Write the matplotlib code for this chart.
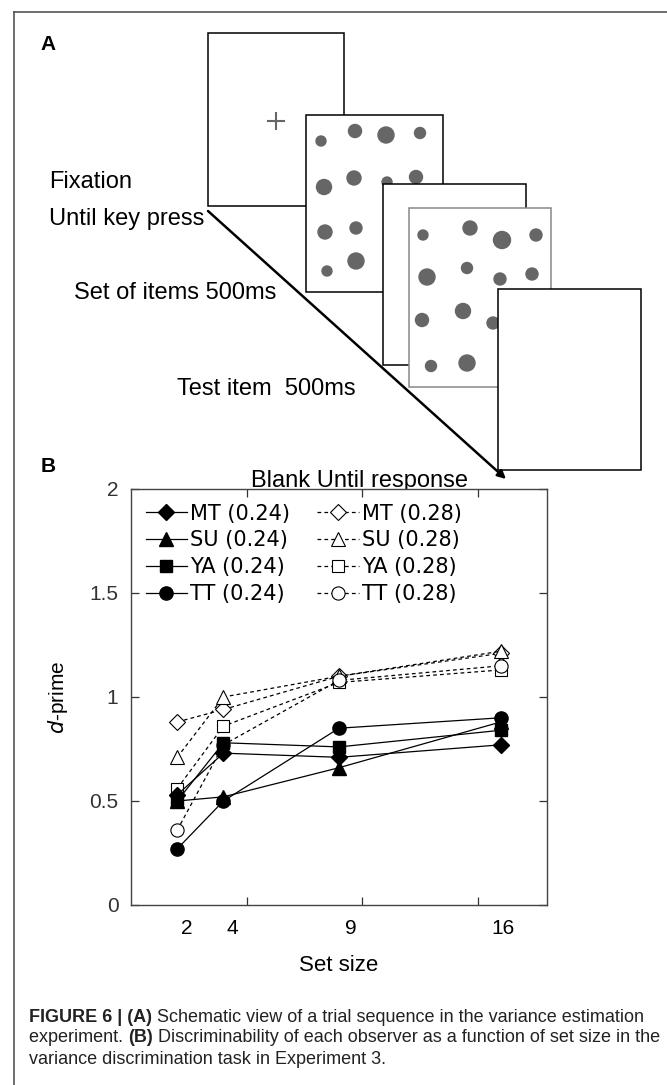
import matplotlib.pyplot as plt
from matplotlib.patches import Rectangle, Circle

# d-prime by set size, two variance levels (0.24 filled, 0.28 open)
set_size = [2, 4, 9, 16]
mt_024 = [0.53, 0.73, 0.71, 0.77]
su_024 = [0.50, 0.52, 0.66, 0.88]
ya_024 = [0.50, 0.78, 0.76, 0.84]
tt_024 = [0.27, 0.50, 0.85, 0.90]
mt_028 = [0.88, 0.94, 1.10, 1.21]
su_028 = [0.71, 1.00, 1.10, 1.22]
ya_028 = [0.56, 0.86, 1.07, 1.13]
tt_028 = [0.36, 0.77, 1.08, 1.15]
observers = ['MT', 'SU', 'YA', 'TT']
markers = ['D', '^', 's', 'o']
msizes = [8, 9.5, 8.5, 9.5]

helv = ['Liberation Sans', 'DejaVu Sans']

fig = plt.figure(figsize=(6.67, 10.85), dpi=100)

# background axes in pixel units for frame, schematic (panel A) and caption
bg = fig.add_axes([0, 0, 1, 1])
bg.set_xlim(0, 667)
bg.set_ylim(1085, 0)
bg.axis('off')

bg.plot([14, 667], [12, 12], color='#555555', lw=1.2)
bg.plot([14, 14], [12, 1085], color='#555555', lw=1.2)

bg.text(48, 45, 'A', fontsize=15, fontweight='bold', family=helv, ha='center', va='center')
bg.text(48, 466, 'B', fontsize=15, fontweight='bold', family=helv, ha='center', va='center')

# schematic of the trial sequence
def frame(x0, y0, x1, y1, ec='black', z=1):
    bg.add_patch(Rectangle((x0, y0), x1 - x0, y1 - y0, facecolor='white',
                           edgecolor=ec, lw=1.1, zorder=z))

def dots(pts, z):
    for x, y, r in pts:
        bg.add_patch(Circle((x, y), r, color='#666666', zorder=z))

dots_a = [(321, 141, 5), (355, 131, 6.5), (386, 135, 8), (420, 133, 5.5),
          (324, 187, 7.5), (354, 178, 7), (387, 182, 5), (416, 177, 6.5),
          (325, 232, 7), (356, 228, 6), (327, 271, 5), (356, 261, 8)]
dots_b = [(423, 235, 5), (470, 228, 7), (502, 240, 8.5), (536, 235, 6),
          (427, 277, 8), (467, 268, 5.5), (500, 279, 6), (532, 274, 6),
          (422, 320, 6.5), (463, 311, 7.5), (493, 323, 6),
          (431, 366, 5.5), (467, 363, 8)]

frame(208, 33, 344, 206, z=1)
bg.plot([268, 284], [121, 121], color='#666666', lw=1.5, zorder=2)
bg.plot([276, 276], [113, 129], color='#666666', lw=1.5, zorder=2)
frame(306, 115, 443, 292, z=3)
dots(dots_a, 4)
frame(383, 184, 526, 365, z=5)
frame(409, 208, 551, 387, ec='#888888', z=6)
dots(dots_b, 7)
frame(498, 289, 641, 470, z=8)
bg.annotate('', xy=(506, 479), xytext=(208, 211),
            arrowprops=dict(arrowstyle='-|>', color='black', lw=1.8,
                            mutation_scale=12, shrinkA=0, shrinkB=0), zorder=9)

txt_kw = dict(fontsize=17, family=helv, va='center', ha='left', zorder=10)
bg.text(49, 182, 'Fixation', **txt_kw)
bg.text(49, 219, 'Until key press', **txt_kw)
bg.text(74, 293, 'Set of items 500ms', **txt_kw)
bg.text(177, 389, 'Test item  500ms', **txt_kw)
bg.text(251, 481, 'Blank Until response', **txt_kw)

# caption, mixed bold / regular pieces chained one after another
cap_lines = [
    [('FIGURE 6 | (A)', 'bold'), (' Schematic view of a trial sequence in the variance estimation', 'normal')],
    [('experiment. ', 'normal'), ('(B)', 'bold'), (' Discriminability of each observer as a function of set size in the', 'normal')],
    [('variance discrimination task in Experiment 3.', 'normal')],
]
cap_y = [1017, 1038, 1059]
for pieces, y in zip(cap_lines, cap_y):
    prev = None
    for s, w in pieces:
        if prev is None:
            prev = bg.text(29, y, s, fontsize=13, fontweight=w, family=helv,
                           va='center', ha='left', color='#222222')
        else:
            prev = bg.annotate(s, xy=(1, 0), xycoords=prev, va='bottom', ha='left',
                               fontsize=13, fontweight=w, family=helv, color='#222222')

# panel B
ax = fig.add_axes([131 / 667, 1 - 905 / 1085, 416 / 667, 416 / 1085])
ax.set_xlim(0, 18)
ax.set_ylim(0, 2)

low = [mt_024, su_024, ya_024, tt_024]
high = [mt_028, su_028, ya_028, tt_028]
handles_low, handles_high = [], []
for name, m, ms, y in zip(observers, markers, msizes, high):
    h, = ax.plot(set_size, y, ls=(0, (3, 2.5)), lw=0.9, color='black', marker=m,
                 ms=ms, mfc='white', mec='black', mew=0.8, zorder=2,
                 label=f'{name} (0.28)')
    handles_high.append(h)
for name, m, ms, y in zip(observers, markers, msizes, low):
    h, = ax.plot(set_size, y, ls='-', lw=0.9, color='black', marker=m,
                 ms=ms, mfc='black', mec='black', zorder=3,
                 label=f'{name} (0.24)')
    handles_low.append(h)

ax.legend(handles=handles_low + handles_high, ncol=2, loc='upper left',
          bbox_to_anchor=(0.0, 1.0), frameon=False, prop={'family': 'DejaVu Sans', 'size': 15},
          handlelength=2.0, handletextpad=0.15, columnspacing=1.3,
          labelspacing=0.33, borderaxespad=0.3)

ax.set_yticks([0, 0.5, 1, 1.5, 2], labels=['0', '0.5', '1', '1.5', '2'])
ax.set_xticks([5, 10, 15], labels=['', '', ''])
ax.set_xticks([2.4, 4.4, 9.5, 16.1], labels=[str(s) for s in set_size], minor=True)
ax.tick_params(which='major', direction='in', length=6, width=0.9,
               top=True, right=True, labelsize=15, pad=9, colors='#333333')
ax.tick_params(which='minor', axis='x', length=0, labelsize=15, pad=10)
for lab in ax.get_xticklabels(minor=True) + ax.get_yticklabels():
    lab.set_family(helv)
for sp in ax.spines.values():
    sp.set_color('#444444')
    sp.set_linewidth(1.0)

plt.rcParams['mathtext.fontset'] = 'custom'
plt.rcParams['mathtext.it'] = 'Liberation Sans:italic'
ax.set_ylabel(r'$d$-prime', fontsize=15, family=helv, labelpad=14)
ax.set_xlabel('Set size', fontsize=16, family=helv, labelpad=12)

fig.savefig('out.png', dpi=100)
